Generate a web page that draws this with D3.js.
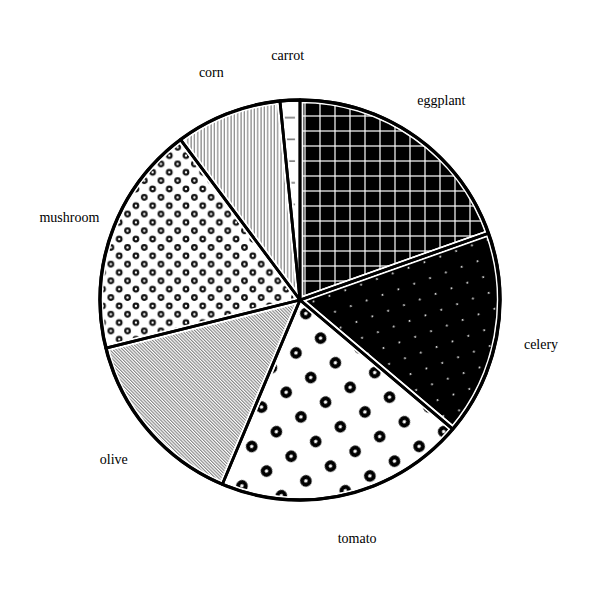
<!DOCTYPE html>
<html>
<head>
<meta charset="utf-8">
<script src="https://cdn.jsdelivr.net/npm/d3@7"></script>
<style>
  html, body { margin: 0; padding: 0; background: #fff; }
  svg { display: block; }
</style>
</head>
<body>
<svg id="chart" width="600" height="600"></svg>
<script>
// ---- data ----
const categories = ["eggplant", "celery", "tomato", "olive", "mushroom", "corn", "carrot"];
const values = [19.6, 16.6, 20.2, 14.8, 18.7, 8.6, 1.6];
const patternIds = ["p-grid", "p-dots", "p-bigrings", "p-diag", "p-rings", "p-vert", "p-dash"];

const width = 600, height = 600;
const cx = 300, cy = 300;
const radius = 200, labelRadius = 245;

const svg = d3.select("#chart");
const defs = svg.append("defs");

// eggplant: black with white grid
{
  const s = 15;
  const p = defs.append("pattern").attr("id", "p-grid").attr("patternUnits", "userSpaceOnUse")
    .attr("width", s).attr("height", s);
  p.append("rect").attr("width", s).attr("height", s).attr("fill", "#000");
  p.append("line").attr("x1", 5).attr("x2", 5).attr("y1", 0).attr("y2", s)
    .attr("stroke", "#fff").attr("stroke-width", 1.2);
  p.append("line").attr("x1", 0).attr("x2", s).attr("y1", 11).attr("y2", 11)
    .attr("stroke", "#fff").attr("stroke-width", 1.2);
}
// celery: black with tiny white dots (rotated square lattice)
{
  const s = 16.8;
  const p = defs.append("pattern").attr("id", "p-dots").attr("patternUnits", "userSpaceOnUse")
    .attr("width", s).attr("height", s).attr("patternTransform", "rotate(-19.5)");
  p.append("rect").attr("x", -1).attr("y", -1).attr("width", s + 2).attr("height", s + 2).attr("fill", "#000");
  p.append("circle").attr("cx", 12.3).attr("cy", 5.9).attr("r", 1).attr("fill", "#e6e6e6");
}
// tomato: big rings on white (rotated square lattice)
{
  const s = 28.7;
  const p = defs.append("pattern").attr("id", "p-bigrings").attr("patternUnits", "userSpaceOnUse")
    .attr("width", s).attr("height", s).attr("patternTransform", "rotate(-31)");
  p.append("rect").attr("x", -1).attr("y", -1).attr("width", s + 2).attr("height", s + 2).attr("fill", "#fff");
  [[26.7, 14.6], [26.7 - s, 14.6]].forEach(([x, y]) => {
    p.append("circle").attr("cx", x).attr("cy", y).attr("r", 3.8)
      .attr("fill", "#fff").attr("stroke", "#000").attr("stroke-width", 4);
  });
}
// olive: thin diagonal lines
{
  const d = 2.3;
  const p = defs.append("pattern").attr("id", "p-diag").attr("patternUnits", "userSpaceOnUse")
    .attr("width", d).attr("height", 10).attr("patternTransform", "rotate(-45)");
  p.append("rect").attr("width", d).attr("height", 10).attr("fill", "#fff");
  p.append("line").attr("x1", 0.6).attr("x2", 0.6).attr("y1", 0).attr("y2", 10)
    .attr("stroke", "#666").attr("stroke-width", 0.9);
}
// mushroom: small rings, centered square lattice
{
  const s = 16.7;
  const p = defs.append("pattern").attr("id", "p-rings").attr("patternUnits", "userSpaceOnUse")
    .attr("width", s).attr("height", s);
  p.append("rect").attr("width", s).attr("height", s).attr("fill", "#fff");
  const pts = [[2.9, 5.9], [2.9 + s / 2, 5.9 + s / 2]];
  pts.forEach(([x, y]) => {
    [[0, 0], [-s, 0], [0, -s], [-s, -s], [s, 0], [0, s]].forEach(([ox, oy]) => {
      p.append("circle").attr("cx", x + ox).attr("cy", y + oy).attr("r", 2.3)
        .attr("fill", "#fff").attr("stroke", "#111").attr("stroke-width", 2.2);
    });
  });
}
// corn: vertical lines
{
  const d = 3.33;
  const p = defs.append("pattern").attr("id", "p-vert").attr("patternUnits", "userSpaceOnUse")
    .attr("width", d).attr("height", 10);
  p.append("rect").attr("width", d).attr("height", 10).attr("fill", "#fff");
  p.append("line").attr("x1", 1).attr("x2", 1).attr("y1", 0).attr("y2", 10)
    .attr("stroke", "#777").attr("stroke-width", 1.1);
}
// carrot: horizontal dashes
{
  const s = 21.7;
  const p = defs.append("pattern").attr("id", "p-dash").attr("patternUnits", "userSpaceOnUse")
    .attr("width", s).attr("height", s);
  p.append("rect").attr("width", s).attr("height", s).attr("fill", "#fff");
  p.append("line").attr("x1", 5.7).attr("x2", 16.7).attr("y1", 13).attr("y2", 13)
    .attr("stroke", "#777").attr("stroke-width", 1.6);
}

const data = categories.map((c, i) => ({ name: c, value: values[i], pattern: patternIds[i] }));

const pie = d3.pie().sort(null).value(d => d.value);
const arcs = pie(data);
const arc = d3.arc().innerRadius(0).outerRadius(radius);
const labelArc = d3.arc().innerRadius(labelRadius).outerRadius(labelRadius);

const g = svg.append("g").attr("transform", `translate(${cx},${cy})`);

// fills with white halo stroke
g.selectAll("path.slice").data(arcs).join("path")
  .attr("class", "slice")
  .attr("d", arc)
  .attr("fill", d => `url(#${d.data.pattern})`)
  .attr("stroke", "#fff")
  .attr("stroke-width", 6.5)
  .attr("stroke-linejoin", "round");

// black outlines
g.selectAll("path.outline").data(arcs).join("path")
  .attr("class", "outline")
  .attr("d", arc)
  .attr("fill", "none")
  .attr("stroke", "#000")
  .attr("stroke-width", 2.8)
  .attr("stroke-linejoin", "round");

g.append("circle").attr("r", radius).attr("fill", "none")
  .attr("stroke", "#000").attr("stroke-width", 3.4);

// labels
g.selectAll("text.label").data(arcs).join("text")
  .attr("class", "label")
  .attr("transform", d => `translate(${labelArc.centroid(d)})`)
  .attr("dy", "0.35em")
  .attr("text-anchor", "middle")
  .attr("font-family", "'Liberation Serif', 'Times New Roman', serif")
  .attr("font-size", 14)
  .attr("fill", "#000")
  .text(d => d.data.name);
</script>
</body>
</html>
